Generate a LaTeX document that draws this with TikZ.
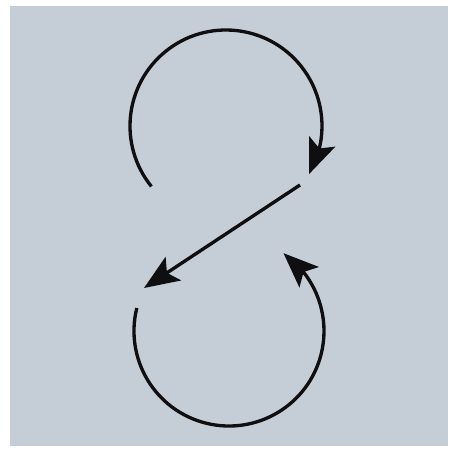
\documentclass[tikz,border=0pt]{standalone}
\usetikzlibrary{arrows.meta,bending,calc}
\definecolor{fondo}{RGB}{197,206,214}
\definecolor{trazo}{RGB}{15,15,18}

\begin{document}
\begin{tikzpicture}[
    panel/.style={fill=fondo, draw=none},
    loop/.style={draw=trazo, line width=1.9pt, -{Stealth[length=7mm, width=5.6mm, inset=1.5mm, flex]}}
]

% --- Marco y fondo ---
\useasboundingbox[fill=white] (0,0) rectangle (9.14,9.02);
\fill[panel] (0.2,0.1) rectangle (8.96,8.9);

% --- Puntos de referencia ---
\coordinate (ctop) at (4.52,6.5);
\coordinate (cbot) at (4.58,2.4);
\coordinate (topstart) at ($(ctop)+(219:1.92)$);
\coordinate (botstart) at ($(cbot)+(166:1.9)$);
\coordinate (diagA) at (6.0,5.32);
\coordinate (diagB) at (2.88,3.26);

% --- Lazo superior ---
\draw[loop] (topstart) arc[start angle=219, end angle=-30, radius=1.92];

% --- Diagonal ---
\draw[loop] (diagA) -- (diagB);

% --- Lazo inferior ---
\draw[loop] (botstart) arc[start angle=166, end angle=415, radius=1.9];

\end{tikzpicture}
\end{document}
